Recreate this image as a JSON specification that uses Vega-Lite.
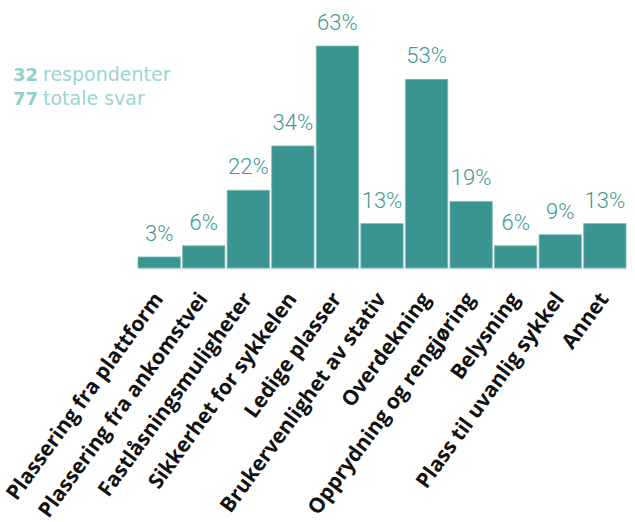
{
  "$schema": "https://vega.github.io/schema/vega-lite/v6.json",
  "autosize": "none",
  "width": 488,
  "height": 222,
  "padding": {"left": 138, "top": 46, "right": 9, "bottom": 254},
  "background": "white",
  "config": {"view": {"stroke": null}},
  "layer": [
    {
      "data": {"values": [
        {"label": "Plassering fra plattform", "count": 1, "pct": 0.03},
        {"label": "Plassering fra ankomstvei", "count": 2, "pct": 0.06},
        {"label": "Fastlåsningsmuligheter", "count": 7, "pct": 0.22},
        {"label": "Sikkerhet for sykkelen", "count": 11, "pct": 0.34},
        {"label": "Ledige plasser", "count": 20, "pct": 0.63},
        {"label": "Brukervenlighet av stativ", "count": 4, "pct": 0.13},
        {"label": "Overdekning", "count": 17, "pct": 0.53},
        {"label": "Opprydning og rengjøring", "count": 6, "pct": 0.19},
        {"label": "Belysning", "count": 2, "pct": 0.06},
        {"label": "Plass til uvanlig sykkel", "count": 3, "pct": 0.09},
        {"label": "Annet", "count": 4, "pct": 0.13}
      ]},
      "encoding": {
        "x": {
          "field": "label", "type": "nominal", "sort": null,
          "scale": {"paddingInner": 0.05, "paddingOuter": 0},
          "axis": {
            "title": null, "ticks": false, "domainColor": "#e2e2e2", "domainWidth": 2,
            "labelAngle": -54, "labelAlign": "right", "labelBaseline": "middle",
            "labelPadding": 27, "labelFont": "Open Sans", "labelFontWeight": "bold",
            "labelFontSize": 21, "labelColor": "#111111", "labelLimit": 400
          }
        },
        "y": {"field": "count", "type": "quantitative", "scale": {"domain": [0, 20], "nice": false}, "axis": null}
      },
      "layer": [
        {"mark": {"type": "bar", "color": "#3a9590", "stroke": "#7cbdb8", "strokeWidth": 0.8}},
        {
          "mark": {"type": "text", "baseline": "alphabetic", "dy": -16, "font": "Roboto", "fontWeight": 300, "fontSize": 22, "color": "#3f9893"},
          "encoding": {"text": {"field": "pct", "type": "quantitative", "format": ".0%"}}
        }
      ]
    },
    {
      "data": {"values": [{"n": "32", "t": "respondenter"}]},
      "layer": [
        {"mark": {"type": "text", "align": "left", "baseline": "alphabetic", "font": "DejaVu Sans", "fontWeight": "bold", "fontSize": 18, "color": "#8fd1cc"},
         "encoding": {"text": {"field": "n"}, "x": {"value": -125}, "y": {"value": 35}}},
        {"mark": {"type": "text", "align": "left", "baseline": "alphabetic", "font": "DejaVu Sans", "fontSize": 19, "color": "#9ad6d2"},
         "encoding": {"text": {"field": "t"}, "x": {"value": -95}, "y": {"value": 35}}}
      ]
    },
    {
      "data": {"values": [{"n": "77", "t": "totale svar"}]},
      "layer": [
        {"mark": {"type": "text", "align": "left", "baseline": "alphabetic", "font": "DejaVu Sans", "fontWeight": "bold", "fontSize": 18, "color": "#8fd1cc"},
         "encoding": {"text": {"field": "n"}, "x": {"value": -125}, "y": {"value": 59}}},
        {"mark": {"type": "text", "align": "left", "baseline": "alphabetic", "font": "DejaVu Sans", "fontSize": 19, "color": "#9ad6d2"},
         "encoding": {"text": {"field": "t"}, "x": {"value": -95}, "y": {"value": 59}}}
      ]
    }
  ]
}
